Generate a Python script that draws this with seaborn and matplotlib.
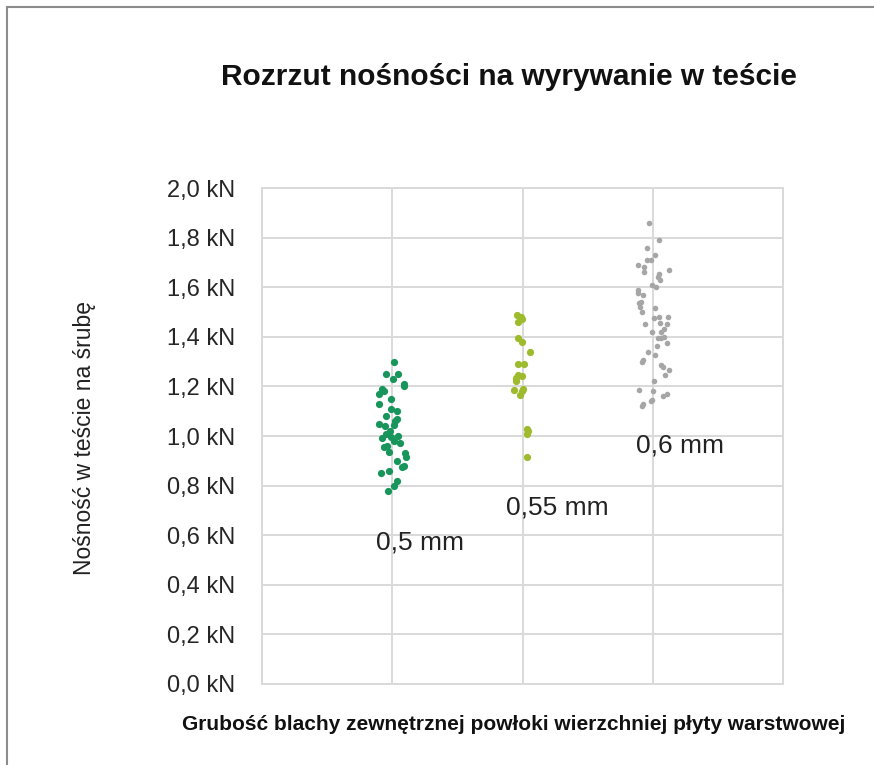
import numpy as np
import pandas as pd
import matplotlib
matplotlib.use("Agg")
import matplotlib.pyplot as plt
import seaborn as sns
from matplotlib.ticker import FuncFormatter
from matplotlib.lines import Line2D

# Values (kN)
grubosc_05 = [1.30, 1.25, 1.25, 1.23, 1.21, 1.20, 1.19, 1.18, 1.17, 1.15, 1.13, 1.11,
              1.10, 1.08, 1.07, 1.06, 1.05, 1.045, 1.04, 1.02, 1.01, 1.00, 0.995,
              0.99, 0.98, 0.97, 0.96, 0.955, 0.935, 0.93, 0.915, 0.90, 0.88, 0.875,
              0.86, 0.85, 0.82, 0.80, 0.78]
grubosc_055 = [1.49, 1.48, 1.47, 1.46, 1.395, 1.38, 1.34, 1.29, 1.29, 1.245, 1.24,
               1.235, 1.22, 1.19, 1.185, 1.18, 1.165, 1.03, 1.02, 1.01, 0.915]
grubosc_06 = [1.86, 1.79, 1.76, 1.73, 1.71, 1.71, 1.69, 1.68, 1.67, 1.66, 1.655, 1.64,
              1.63, 1.61, 1.60, 1.59, 1.575, 1.57, 1.54, 1.535, 1.52, 1.515, 1.50,
              1.48, 1.48, 1.475, 1.455, 1.45, 1.45, 1.43, 1.42, 1.42, 1.40, 1.395,
              1.395, 1.375, 1.365, 1.34, 1.325, 1.305, 1.30, 1.285, 1.28, 1.265,
              1.245, 1.22, 1.185, 1.18, 1.17, 1.16, 1.145, 1.14, 1.13, 1.12]
kategorie = ["0,5 mm", "0,55 mm", "0,6 mm"]
kolory = ["#17955a", "#9dbb2c", "#a6a6a6"]

df = pd.DataFrame({
    "grubosc": [kategorie[0]] * len(grubosc_05) + [kategorie[1]] * len(grubosc_055)
               + [kategorie[2]] * len(grubosc_06),
    "nosnosc": grubosc_05 + grubosc_055 + grubosc_06,
})

plt.rcParams["font.family"] = ["Liberation Sans", "DejaVu Sans"]

fig = plt.figure(figsize=(8.74, 7.65), dpi=100)
ax = fig.add_axes([0.2998, 0.1059, 0.5963, 0.6483])

np.random.seed(3)
rozmiary = [5.2, 5.2, 4.0]
jitter = [0.11, 0.08, 0.13]
for kat, kol, s, j in zip(kategorie, kolory, rozmiary, jitter):
    sns.stripplot(data=df[df.grubosc == kat], x="grubosc", y="nosnosc", order=kategorie,
                  color=kol, size=s, jitter=j, linewidth=0, ax=ax)

ax.set_xlim(-1, 3)
ax.set_xticks([-1, 0, 1, 2, 3])
ax.set_xticklabels([])
ax.set_ylim(0, 2.0)
ax.set_yticks(np.arange(0, 2.01, 0.2))
ax.yaxis.set_major_formatter(FuncFormatter(lambda v, p: ("%.1f kN" % v).replace(".", ",")))
ax.tick_params(length=0, labelsize=17, pad=19.5, colors="#262626")
ax.grid(True, color="#d9d9d9", linewidth=1.4)
ax.set_axisbelow(True)
for sp in ax.spines.values():
    sp.set_color("#d9d9d9")
    sp.set_linewidth(1.4)
ax.set_xlabel("")
ax.set_ylabel("")

# opisy osi
fig.text(514 / 874, 1 - 724 / 765,
         "Grubość blachy zewnętrznej powłoki wierzchniej płyty warstwowej",
         fontsize=15, fontweight="bold", ha="center", va="center", color="#111111")
fig.text(85 / 874, 1 - 438 / 765, "Nośność w teście na śrubę", fontsize=16.5,
         rotation=90, ha="center", va="center", color="#222222")

# etykiety kategorii
ax.text(0.215, 0.57, kategorie[0], fontsize=19, ha="center", va="center", color="#222222")
ax.text(1.27, 0.71, kategorie[1], fontsize=19, ha="center", va="center", color="#222222")
ax.text(2.21, 0.96, kategorie[2], fontsize=19, ha="center", va="center", color="#222222")

fig.text(0.582, 0.899, "Rozrzut nośności na wyrywanie w teście", fontsize=21.5,
         fontweight="bold", ha="center", va="center", color="#111111")

# ramka obrazka
fig.add_artist(Line2D([0.008, 0.008], [0, 0.991], color="#8c8c8c", linewidth=1.5))
fig.add_artist(Line2D([0.008, 1.0], [0.991, 0.991], color="#8c8c8c", linewidth=1.5))

fig.savefig("out.png", dpi=100)
